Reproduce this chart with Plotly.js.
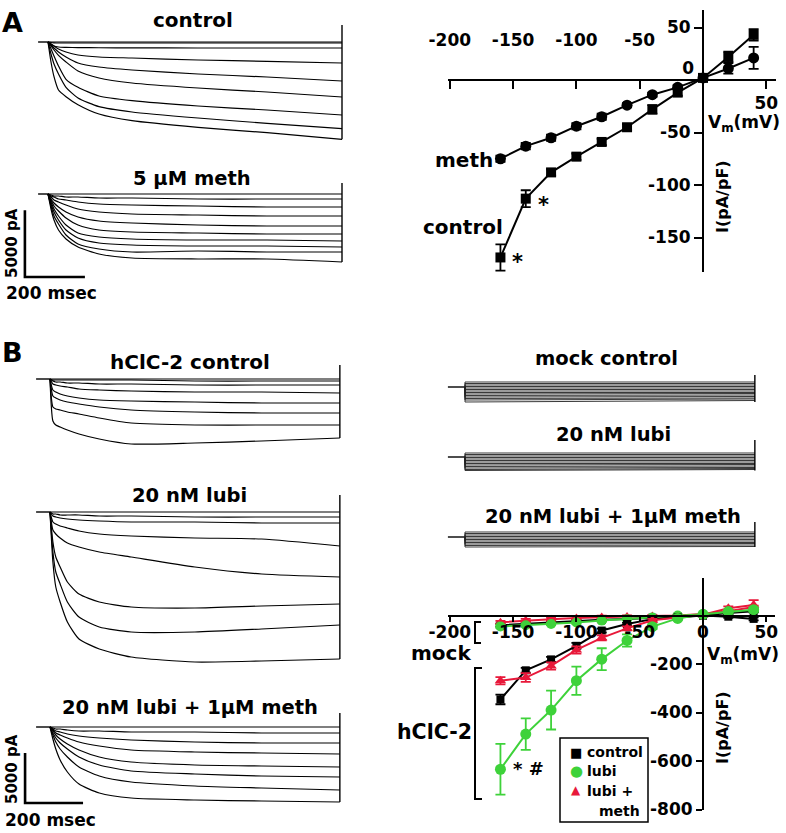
<!DOCTYPE html>
<html><head><meta charset="utf-8">
<script src="https://cdn.plot.ly/plotly-3.0.1.min.js"></script>
<style>html,body{margin:0;padding:0;background:#fff}#chart{width:786px;height:833px}</style>
</head><body><div id="chart"></div>
<script>
// ---------------- DATA ----------------
// Panel A current traces (time in ms, current in pA)
const aTime = [-33,0,10,20,35,60,100,170,280,500,730,980];
const aControlTraces = [
  [0,0,-1500,-2600,-3600,-4100,-4700,-5400,-5900,-6400,-6800,-7300],
  [0,0,-900,-1650,-2400,-3400,-4200,-4850,-5250,-5700,-6100,-6500],
  [0,0,-500,-1050,-1800,-2800,-3400,-4050,-4400,-4800,-5100,-5475],
  [0,0,-300,-600,-1000,-1500,-2175,-2700,-3075,-3450,-3750,-4125],
  [0,0,-225,-450,-750,-1125,-1575,-1875,-2100,-2400,-2625,-2925],
  [0,0,-150,-300,-525,-750,-975,-1125,-1200,-1350,-1450,-1575],
  [0,0,-150,-300,-375,-400,-420,-430,-440,-450,-450,-450],
  [0,0,-40,-60,-75,-75,-75,-75,-75,-75,-75,-75],
  [0,0,0,0,0,0,0,0,0,0,0,0]
];
const aControlEdge = [1275,-7300];
const aMethTraces = [
  [0,0,-1125,-1950,-2700,-3375,-3975,-4500,-4800,-4875,-4875,-5100],
  [0,0,-900,-1650,-2250,-3075,-3750,-4125,-4350,-4275,-4350,-4350],
  [0,0,-750,-1350,-1950,-2700,-3300,-3675,-3825,-3900,-3900,-3975],
  [0,0,-600,-1125,-1650,-2325,-2925,-3225,-3375,-3450,-3450,-3525],
  [0,0,-450,-900,-1275,-1800,-2325,-2700,-2850,-2925,-3000,-3000],
  [0,0,-375,-675,-975,-1350,-1725,-2025,-2175,-2325,-2400,-2400],
  [0,0,-225,-450,-600,-825,-1125,-1350,-1500,-1575,-1650,-1650],
  [0,0,-150,-225,-375,-450,-600,-750,-825,-900,-975,-975],
  [0,0,-75,-150,-150,-225,-225,-300,-300,-375,-375,-375],
  [0,0,0,0,0,0,0,0,0,0,0,0]
];
const aMethEdge = [825,-5100];

// Panel B hClC-2 current traces
const bTime = [-48,0,10,20,35,60,100,170,280,500,730,1000];
const bControlTraces = [
  [0,0,-4200,-4600,-4800,-5100,-5500,-6000,-6500,-6400,-6200,-5900],
  [0,0,-2800,-3000,-3100,-3300,-3500,-3900,-4400,-4600,-4600,-4600],
  [0,0,-1700,-1900,-2100,-2300,-2500,-2800,-3100,-3300,-3400,-3400],
  [0,0,-1100,-1300,-1500,-1700,-1900,-2100,-2200,-2300,-2400,-2400],
  [0,0,-500,-600,-700,-800,-1000,-1100,-1200,-1300,-1300,-1400],
  [0,0,-200,-300,-300,-400,-400,-500,-500,-600,-600,-600],
  [0,0,-100,-100,-100,-100,-100,-100,-100,-200,-200,-200],
  [0,0,0,0,0,0,0,0,0,0,0,0]
];
const bControlEdge = [1400,-5900];
const bLubiTraces = [
  [0,0,-5000,-7500,-9000,-11000,-12700,-13700,-14500,-15000,-14900,-14700],
  [0,0,-4000,-6000,-7200,-9000,-10500,-11500,-12000,-12000,-11700,-11300],
  [0,0,-3000,-4500,-5500,-7000,-8200,-9000,-9500,-9600,-9400,-9200],
  [0,0,-1800,-2200,-2600,-3100,-3500,-4000,-4500,-5500,-6200,-6500],
  [0,0,-1000,-1200,-1400,-1600,-1900,-2200,-2400,-2600,-2700,-3400],
  [0,0,-400,-500,-600,-700,-800,-900,-1000,-1000,-1100,-1100],
  [0,0,-200,-200,-300,-300,-300,-400,-400,-500,-500,-500],
  [0,0,0,0,0,0,0,0,0,0,0,0]
];
const bLubiEdge = [1700,-14700];
const bLubiMethTraces = [
  [0,0,-1200,-2200,-3300,-4500,-5700,-6600,-7100,-7300,-7400,-7500],
  [0,0,-800,-1500,-2200,-3000,-4000,-4900,-5500,-5900,-6100,-6300],
  [0,0,-600,-1100,-1600,-2200,-3000,-3800,-4400,-4700,-4900,-5000],
  [0,0,-400,-800,-1200,-1700,-2300,-3000,-3500,-3800,-3900,-4000],
  [0,0,-300,-600,-800,-1100,-1500,-1900,-2300,-2500,-2600,-2700],
  [0,0,-200,-400,-500,-700,-900,-1100,-1300,-1500,-1600,-1600],
  [0,0,-100,-200,-200,-300,-400,-400,-500,-500,-600,-600],
  [0,0,0,0,0,0,0,0,0,0,0,0]
];
const bLubiMethEdge = [1400,-7500];

// Mock-transfected cell traces (step level at start and end of pulse, pA)
const mockTime = [-59,0,0,1000];
const mockControlStart = [500,350,200,50,-100,-250,-400,-550,-700,-850,-1000,-1150,-1300,-1500];
const mockControlEnd   = [500,350,200,50,-100,-250,-400,-550,-650,-800,-950,-1100,-1200,-1350];
const mockControlEdge = [1200,-1500];
const mockLubiStart = [400,250,100,-50,-200,-350,-500,-650,-800,-950,-1100,-1250,-1350];
const mockLubiEnd   = [400,250,100,-50,-200,-350,-500,-650,-750,-900,-1050,-1150,-1250];
const mockLubiEdge = [1700,-1350];
const mockLubiMethStart = [500,350,200,50,-100,-250,-400,-550,-700,-850,-1000];
const mockLubiMethEnd   = [500,350,200,50,-100,-250,-400,-550,-650,-800,-950];
const mockLubiMethEdge = [1500,-1000];

// Scale bars
const scaleBarMs = 200, scaleBarPA = 5000;

// I-V data (mV, pA/pF)
const vm = [-160,-140,-120,-100,-80,-60,-40,-20,0,20,40];
const aIvControl = [-169,-113,-88,-73,-59,-45,-28,-12,2,22,43];
const aIvControlErr = [12.5,8,3,3,3,3,4,3,2,5,5.5];
const aIvMeth = [-75,-63,-55,-44,-35,-24,-14,-7,2,11,21];
const aIvMethErr = [3,3,3,3,3,2,2,2,2,5,10.5];
const bIvControl = [-346,-226,-181,-125,-62,-35,-15,-8,0,10,18];
const bIvControlErr = [20,10,10,12,8,5,5,4,3,4,5];
const bIvLubi = [-634,-489,-390,-269,-180,-103,-46,-12,5,16,24];
const bIvLubiErr = [105,65,80,58,45,25,10,6,4,6,8];
const bIvLubiMeth = [-269,-256,-208,-142,-92,-53,-20,-8,3,30,43];
const bIvLubiMethErr = [15,18,15,15,10,8,6,5,4,8,20];
const mIvControl = [-40,-34,-28,-22,-18,-14,-9,-4,0,-5,-14];
const mIvLubi = [-45,-40,-35,-29,-21,-15,-8,0,5,14,22];
const mIvLubiMeth = [-28,-20,-15,-10,-6,-4,-2,0,6,18,35];
const mIvErr = [6,6,5,5,5,4,4,4,4,5,6];

const legendLabels = ['control', 'lubi', 'lubi +', 'meth'];

const aXTicks = [-200,-150,-100,-50], aXTickText = ['-200','-150','-100','-50'];
const aYTicks = [50,-50,-100,-150], aYTickText = ['50','-50','-100','-150'];
const bXTicks = [-200,-150,-100,-50,0,50], bXTickText = ['-200','-150','-100','-50','0','50'];
const bYTicks = [-200,-400,-600,-800], bYTickText = ['-200','-400','-600','-800'];

// ---------------- LAYOUT HELPERS ----------------
const W = 786, H = 833;
const X = p => p / W, Y = p => 1 - p / H;
const FONT = 'DejaVu Sans, Liberation Sans, Arial, sans-serif';
const GREEN = '#3ed23a', RED = '#e8183a';
const sfx = n => n === 1 ? '' : String(n);
const layout = {
  width: W, height: H, margin: {l:0, r:0, t:0, b:0},
  paper_bgcolor: '#fff', plot_bgcolor: 'rgba(0,0,0,0)',
  font: {family: FONT, color: '#000'},
  showlegend: false,
  annotations: [], shapes: []
};
function hiddenAxes(n, pxL, pxR, stepPx, msPx, pyT, pyB, basePy, pAPx) {
  layout['xaxis' + sfx(n)] = {domain: [X(pxL), X(pxR)], range: [(pxL - stepPx) * msPx, (pxR - stepPx) * msPx],
    visible: false, anchor: 'y' + sfx(n), fixedrange: true};
  layout['yaxis' + sfx(n)] = {domain: [Y(pyB), Y(pyT)], range: [-(pyB - basePy) * pAPx, (basePy - pyT) * pAPx],
    visible: false, anchor: 'x' + sfx(n), fixedrange: true};
}
const msA = 200 / 60, msB = 3.45;
hiddenAxes(1, 0, 360, 48, msA, 12, 165, 42, 75);
hiddenAxes(2, 0, 360, 48, msA, 165, 300, 194, 75);
hiddenAxes(5, 0, 360, 50, msB, 338, 470, 379, 100);
hiddenAxes(6, 0, 360, 50, msB, 470, 690, 512, 100);
hiddenAxes(7, 0, 360, 50, msB, 690, 833, 727, 100);
hiddenAxes(8, 440, 786, 465, msB, 368, 410, 387, 100);
hiddenAxes(9, 440, 786, 465, msB, 436, 480, 457, 100);
hiddenAxes(10, 440, 786, 465, msB, 515, 555, 537, 100);

const tickfont = {family: FONT, size: 17, color: '#000', weight: 'bold'};
const pxPerMV = 63.3 / 50;
const common = {showgrid: false, zeroline: false, fixedrange: true, tickfont: tickfont,
                tickcolor: '#000', tickwidth: 2, linecolor: '#000', linewidth: 2};
// A I-V axes
const aXRange = [(448 - 703) / pxPerMV, (776 - 703) / pxPerMV];
const aYRange = [(80 - 272) / 1.05, (80 - 10) / 1.05];
layout.xaxis3 = Object.assign({}, common, {domain: [X(448), X(776)], range: aXRange, anchor: 'free', position: Y(80),
  side: 'top', showline: true, ticks: 'inside', ticklen: 8, tickvals: aXTicks, ticktext: aXTickText, ticklabelstandoff: 26});
layout.xaxis4 = Object.assign({}, common, {overlaying: 'x3', range: aXRange, anchor: 'free', position: Y(80),
  side: 'bottom', showline: false, ticks: 'outside', ticklen: 8, tickvals: [50], ticktext: ['50']});
layout.yaxis3 = Object.assign({}, common, {domain: [Y(272), Y(10)], range: aYRange, anchor: 'free', position: X(703),
  side: 'left', showline: true, ticks: 'outside', ticklen: 8, tickvals: aYTicks, ticktext: aYTickText});
layout.yaxis4 = Object.assign({}, common, {overlaying: 'y3', range: aYRange, anchor: 'free', position: X(703),
  side: 'left', showline: false, ticks: '', tickvals: [0], ticktext: ['0'], ticklabelshift: -12, ticklabelstandoff: 9});
// B I-V axes
const bXRange = [(448 - 703) / pxPerMV, (775 - 703) / pxPerMV];
const bYRange = [(615.5 - 810) / 0.2425, (615.5 - 578) / 0.2425];
layout.xaxis11 = Object.assign({}, common, {domain: [X(448), X(775)], range: bXRange, anchor: 'free', position: Y(615.5),
  side: 'bottom', showline: true, ticks: 'outside', ticklen: 5, tickvals: bXTicks, ticktext: bXTickText, ticklabelstandoff: -4});
layout.yaxis11 = Object.assign({}, common, {domain: [Y(810), Y(578)], range: bYRange, anchor: 'free', position: X(703),
  side: 'left', showline: true, ticks: 'outside', ticklen: 6, tickvals: bYTicks, ticktext: bYTickText});

// ---------------- TRACES ----------------
const data = [];
function addPanel(time, traces, n, edge, smooth) {
  const xa = 'x' + sfx(n), ya = 'y' + sfx(n);
  data.push({type: 'scatter', mode: 'lines', x: time.slice(0, 2), y: traces[0].slice(0, 2), xaxis: xa, yaxis: ya,
    line: {color: '#000', width: 1.4}, showlegend: false, hoverinfo: 'skip'});
  traces.forEach(tr => data.push({type: 'scatter', mode: 'lines', x: time.slice(1), y: tr.slice(1), xaxis: xa, yaxis: ya,
    line: smooth ? {color: '#000', width: 1.2, shape: 'spline', smoothing: 0.6} : {color: '#222', width: 0.9},
    showlegend: false, hoverinfo: 'skip'}));
  const tEnd = time[time.length - 1];
  data.push({type: 'scatter', mode: 'lines', x: [tEnd, tEnd], y: edge, xaxis: xa, yaxis: ya,
    line: {color: '#000', width: 1.4}, showlegend: false, hoverinfo: 'skip'});
}
function mockPanel(starts, ends, n, edge) {
  const tr = starts.map((s, i) => [0, 0, s, ends[i]]);
  addPanel(mockTime, tr, n, edge, false);
}
addPanel(aTime, aControlTraces, 1, aControlEdge, true);
addPanel(aTime, aMethTraces, 2, aMethEdge, true);
addPanel(bTime, bControlTraces, 5, bControlEdge, true);
addPanel(bTime, bLubiTraces, 6, bLubiEdge, true);
addPanel(bTime, bLubiMethTraces, 7, bLubiMethEdge, true);
mockPanel(mockControlStart, mockControlEnd, 8, mockControlEdge);
mockPanel(mockLubiStart, mockLubiEnd, 9, mockLubiEdge);
mockPanel(mockLubiMethStart, mockLubiMethEnd, 10, mockLubiMethEdge);

function scaleBar(n, t0, i0) {
  data.push({type: 'scatter', mode: 'lines', x: [t0, t0, t0 + scaleBarMs], y: [i0 + scaleBarPA, i0, i0],
    xaxis: 'x' + sfx(n), yaxis: 'y' + sfx(n), line: {color: '#000', width: 2.6}, showlegend: false, hoverinfo: 'skip'});
}
scaleBar(2, -77, -6225);
scaleBar(7, -86, -7600);

function iv(y, err, color, symbol, size, xa, ya) {
  data.push({type: 'scatter', mode: 'lines+markers', x: vm, y: y, xaxis: xa, yaxis: ya,
    line: {color: color, width: 2}, marker: {color: color, symbol: symbol, size: size},
    error_y: {type: 'data', array: err, color: color, thickness: 1.8, width: 5},
    showlegend: false, hoverinfo: 'skip', cliponaxis: false});
}
iv(aIvMeth, aIvMethErr, '#000', 'circle', 11, 'x3', 'y3');
iv(aIvControl, aIvControlErr, '#000', 'square', 10, 'x3', 'y3');
data.push({type: 'scatter', x: [], y: [], xaxis: 'x4', yaxis: 'y3', showlegend: false});
data.push({type: 'scatter', x: [], y: [], xaxis: 'x3', yaxis: 'y4', showlegend: false});

iv(mIvControl, mIvErr, '#000', 'square', 8, 'x11', 'y11');
iv(mIvLubiMeth, mIvErr, RED, 'triangle-up', 9, 'x11', 'y11');
iv(mIvLubi, mIvErr, GREEN, 'circle', 10, 'x11', 'y11');
iv(bIvControl, bIvControlErr, '#000', 'square', 8, 'x11', 'y11');
iv(bIvLubiMeth, bIvLubiMethErr, RED, 'triangle-up', 10, 'x11', 'y11');
iv(bIvLubi, bIvLubiErr, GREEN, 'circle', 11, 'x11', 'y11');

// ---------------- TEXT ----------------
function ann(text, px, py, size, extra) {
  layout.annotations.push(Object.assign({text: text, x: X(px), y: Y(py), xref: 'paper', yref: 'paper',
    xanchor: 'center', yanchor: 'middle', showarrow: false,
    font: {family: FONT, size: size, color: '#000', weight: 'bold'}}, extra || {}));
}
ann('A', 13, 22, 27);
ann('B', 12, 352, 27);
ann('control', 193, 20, 20);
ann('5 µM meth', 192, 178, 19.5);
ann('hClC-2 control', 190, 362, 20);
ann('20 nM lubi', 189, 495, 19.5);
ann('20 nM lubi + 1µM meth', 190, 707, 19.5);
ann('mock control', 606, 358, 19.5);
ann('20 nM lubi', 613, 435, 19.5);
ann('20 nM lubi + 1µM meth', 613, 516, 19.5);
ann('5000 pA', 12, 243, 15, {textangle: -90});
ann('200 msec', 51, 293, 17);
ann('5000 pA', 12, 769, 15, {textangle: -90});
ann('200 msec', 50, 820, 17);
ann('meth', 464, 160, 20);
ann('control', 463, 227, 20);
ann('*', 543, 205, 21);
ann('*', 517, 262, 21);
ann('V<sub>m</sub>(mV)', 744, 124, 17);
ann('I(pA/pF)', 723, 197, 16, {textangle: -90});
ann('mock', 441, 653, 20);
ann('hClC-2', 434, 732, 20.5);
ann('* #', 528, 768, 18);
ann('V<sub>m</sub>(mV)', 743, 655, 17);
ann('I(pA/pF)', 722, 728, 16, {textangle: -90});

// legend box (B)
layout.shapes.push({type: 'rect', xref: 'paper', yref: 'paper', x0: X(560), x1: X(648), y0: Y(822), y1: Y(738),
  line: {color: '#000', width: 1.5}, fillcolor: '#fff'});
ann('■', 576, 752, 13);
ann('●', 576, 771, 15, {font: {family: FONT, size: 15, color: GREEN}});
ann('▲', 576, 790, 12, {font: {family: FONT, size: 12, color: RED}});
ann(legendLabels[0], 585, 752, 14, {xanchor: 'left'});
ann(legendLabels[1], 585, 771, 14, {xanchor: 'left'});
ann(legendLabels[2], 585, 791, 14, {xanchor: 'left'});
ann(legendLabels[3], 597, 811, 14, {xanchor: 'left'});

function bracket(x0, x1, y0, y1) {
  layout.shapes.push({type: 'path', xref: 'paper', yref: 'paper',
    path: `M ${X(x1)} ${Y(y0)} L ${X(x0)} ${Y(y0)} L ${X(x0)} ${Y(y1)} L ${X(x1)} ${Y(y1)}`,
    line: {color: '#000', width: 2}});
}
bracket(475, 481, 622, 643);
bracket(475, 482, 668, 799);

Plotly.newPlot('chart', data, layout, {displayModeBar: false, staticPlot: true});
</script></body></html>
